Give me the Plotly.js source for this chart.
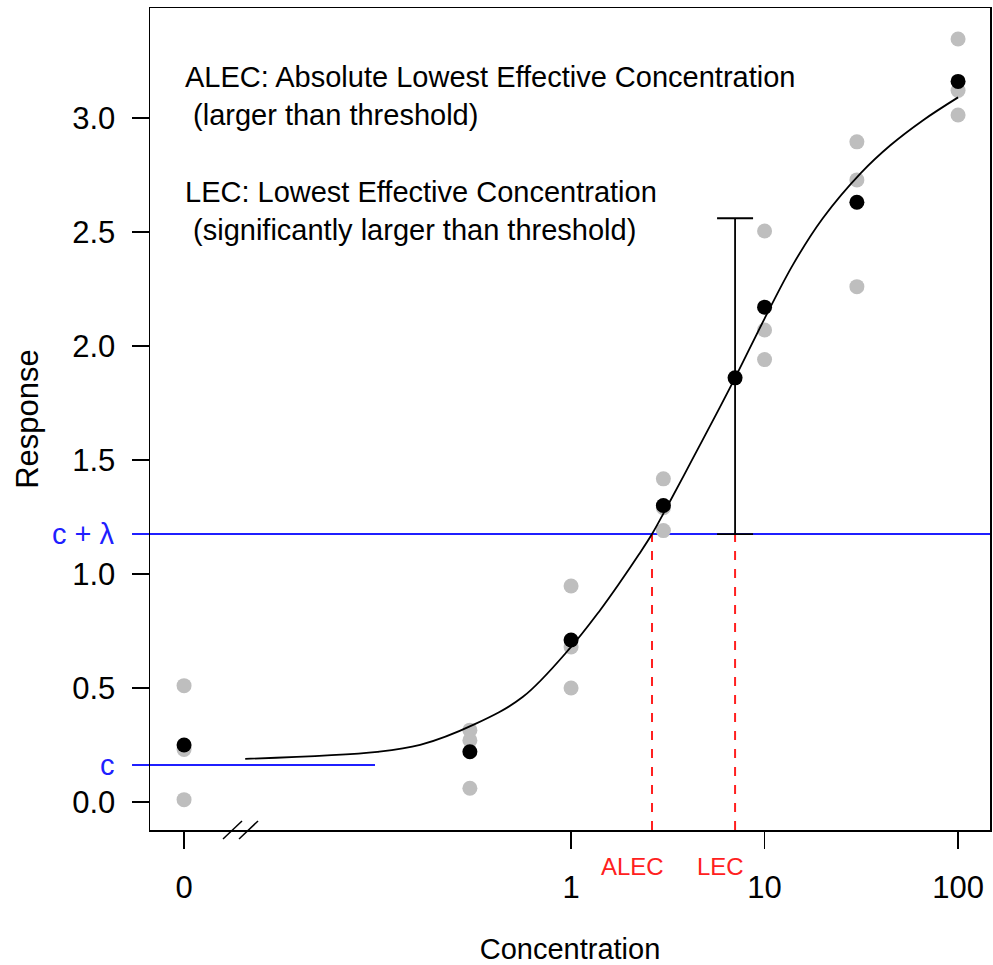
<!DOCTYPE html>
<html>
<head>
<meta charset="utf-8">
<script src="https://cdn.plot.ly/plotly-3.0.1.min.js"></script>
<style>html,body{margin:0;padding:0;background:#fff;}#plot{width:993px;height:965px;}</style>
</head>
<body>
<div id="plot"></div>
<script>
// ---- data ----
const concentrations = [0, 0.3, 1, 3, 10, 30, 100];
const rep1 = [0.51, 0.315, 0.947, 1.417, 2.504, 2.895, 3.346];
const rep2 = [0.23, 0.27, 0.68, 1.29, 2.07, 2.728, 3.12];
const rep3 = [0.01, 0.06, 0.50, 1.19, 1.94, 2.26, 3.013];
const means = [0.25, 0.22, 0.71, 1.30, 2.17, 2.63, 3.16];

// fitted curve
const curveConc = [0.0207, 0.1, 0.166, 0.316, 0.562, 1, 1.41, 1.78, 2.24, 2.62, 3.16, 4.22, 5.62, 7.04, 10, 14.1, 20, 31.6, 44.7, 66, 100];
const curveResp = [0.189, 0.22, 0.25, 0.34, 0.46, 0.68, 0.84, 0.96, 1.085, 1.175, 1.30, 1.50, 1.70, 1.86, 2.12, 2.36, 2.56, 2.76, 2.88, 2.99, 3.09];

const cValue = 0.162;          // c
const cPlusLambda = 1.175;     // c + lambda
const cLineEndConc = 0.097;    // the c segment stops here
const ALEC = 2.62;
const LEC = 7.04;
const lecEstimate = 1.86;
const lecUpper = 2.56;
const lecLower = 1.175;

const zeroPosition = 0.01;     // where concentration 0 is drawn on the log axis
const xTickVals = [0, 1, 10, 100];
const xTickText = ['0', '1', '10', '100'];
const yTickVals = [0, 0.5, 1, 1.5, 2, 2.5, 3];
const yTickText = ['0.0', '0.5', '1.0', '1.5', '2.0', '2.5', '3.0'];

// ---- helpers ----
const pos = c => (c === 0 ? zeroPosition : c);
const xs = concentrations.map(pos);
const xRange = [-2.176, 2.165];
const yRange = [-0.123, 3.482];
const toPaperX = c => (Math.log10(c) - xRange[0]) / (xRange[1] - xRange[0]);

const FONT = 'Liberation Sans, Arial, Helvetica, sans-serif';
const grey = '#bebebe';
const blue = '#1f1fff';
const red = '#ff2020';

const traces = [
  {x: xs.concat(xs, xs), y: rep1.concat(rep2, rep3), type: 'scatter', mode: 'markers',
   marker: {color: grey, size: 15}, hoverinfo: 'skip'},
  {x: curveConc, y: curveResp, type: 'scatter', mode: 'lines',
   line: {color: 'black', width: 1.8, shape: 'spline', smoothing: 1}, hoverinfo: 'skip'},
  {x: xs, y: means, type: 'scatter', mode: 'markers',
   marker: {color: 'black', size: 15}, hoverinfo: 'skip'},
  {x: [LEC], y: [lecEstimate], type: 'scatter', mode: 'markers',
   marker: {color: 'black', size: 15}, hoverinfo: 'skip',
   error_y: {type: 'data', symmetric: false, array: [lecUpper - lecEstimate],
             arrayminus: [lecEstimate - lecLower], color: 'black', thickness: 1.8, width: 18}}
];

const shapes = [
  // c + lambda line (extends into left margin)
  {type: 'line', layer: 'below', xref: 'paper', yref: 'y', x0: -0.0214, x1: 1, y0: cPlusLambda, y1: cPlusLambda,
   line: {color: blue, width: 2}},
  // c line
  {type: 'line', layer: 'below', xref: 'paper', yref: 'y', x0: -0.0214, x1: toPaperX(cLineEndConc), y0: cValue, y1: cValue,
   line: {color: blue, width: 2}},
  // ALEC & LEC dashed verticals
  {type: 'line', layer: 'below', xref: 'x', yref: 'y', x0: ALEC, x1: ALEC, y0: yRange[0], y1: cPlusLambda,
   line: {color: red, width: 2, dash: 'dash'}},
  {type: 'line', layer: 'below', xref: 'x', yref: 'y', x0: LEC, x1: LEC, y0: yRange[0], y1: cPlusLambda,
   line: {color: red, width: 2, dash: 'dash'}},
  // axis break marks
  {type: 'line', xref: 'paper', yref: 'paper', x0: 0.0869, x1: 0.1095, y0: -0.011, y1: 0.011,
   line: {color: 'black', width: 1.5}},
  {type: 'line', xref: 'paper', yref: 'paper', x0: 0.106, x1: 0.1286, y0: -0.011, y1: 0.011,
   line: {color: 'black', width: 1.5}}
];

const annotations = [
  {xref: 'paper', yref: 'paper', x: 0.039, y: 0.938, xanchor: 'left', yanchor: 'top', align: 'left',
   showarrow: false, text: 'ALEC: Absolute Lowest Effective Concentration<br>\u00a0(larger than threshold)',
   font: {family: FONT, size: 29, color: 'black'}},
  {xref: 'paper', yref: 'paper', x: 0.039, y: 0.798, xanchor: 'left', yanchor: 'top', align: 'left',
   showarrow: false, text: 'LEC: Lowest Effective Concentration<br>\u00a0(significantly larger than threshold)',
   font: {family: FONT, size: 29, color: 'black'}},
  {xref: 'paper', yref: 'y', x: -0.039, y: cPlusLambda, xanchor: 'right', yanchor: 'middle',
   showarrow: false, text: 'c + λ', font: {family: FONT, size: 29, color: blue}},
  {xref: 'paper', yref: 'y', x: -0.039, y: cValue, xanchor: 'right', yanchor: 'middle',
   showarrow: false, text: 'c', font: {family: FONT, size: 29, color: blue}},
  {xref: 'x', yref: 'paper', x: Math.log10(ALEC), y: -0.044, xanchor: 'center', yanchor: 'middle',
   xshift: -20, showarrow: false, text: 'ALEC', font: {family: FONT, size: 24, color: red}},
  {xref: 'x', yref: 'paper', x: Math.log10(LEC), y: -0.044, xanchor: 'center', yanchor: 'middle',
   xshift: -15, showarrow: false, text: 'LEC', font: {family: FONT, size: 24, color: red}}
];

const layout = {
  width: 993, height: 965,
  margin: {l: 150, r: 3, t: 8, b: 135},
  paper_bgcolor: 'white', plot_bgcolor: 'white',
  showlegend: false,
  font: {family: FONT, color: 'black'},
  xaxis: {
    type: 'log', range: xRange, tickvals: xTickVals.map(pos), ticktext: xTickText,
    showgrid: false, zeroline: false, showline: true, mirror: true, linecolor: 'black', linewidth: 1.5,
    ticks: 'outside', ticklen: 17, tickwidth: 1.5, tickcolor: 'black', ticklabelstandoff: 12,
    tickfont: {family: FONT, size: 31},
    title: {text: 'Concentration', font: {family: FONT, size: 29}, standoff: 36}
  },
  yaxis: {
    range: yRange, tickvals: yTickVals, ticktext: yTickText,
    showgrid: false, zeroline: false, showline: true, mirror: true, linecolor: 'black', linewidth: 1.5,
    ticks: 'outside', ticklen: 17, tickwidth: 1.5, tickcolor: 'black', ticklabelstandoff: 10,
    tickfont: {family: FONT, size: 31},
    title: {text: 'Response', font: {family: FONT, size: 31}, standoff: 24}
  },
  shapes: shapes,
  annotations: annotations
};

Plotly.newPlot('plot', traces, layout, {staticPlot: true});
</script>
</body>
</html>
